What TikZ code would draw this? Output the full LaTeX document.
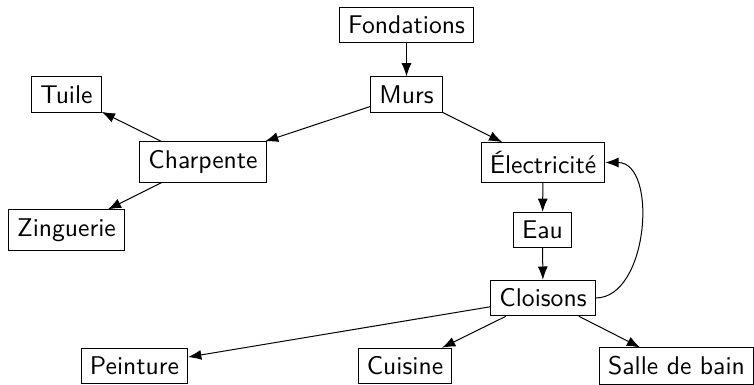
\documentclass[tikz,border=0pt]{standalone}
\usepackage{fontspec}
\usetikzlibrary{arrows.meta}
\begin{document}
\begin{tikzpicture}[x=0.4pt,y=-0.4pt,
  box/.style={draw, font=\sffamily\fontsize{10.25pt}{12.5pt}\selectfont, inner sep=3.42pt},
  arr/.style={-{Latex[length=5.3pt,width=4pt]}}]
\useasboundingbox (0,0) rectangle (754,385);
\node[box] (fond) at (406.5,25) {Fondations};
\node[box] (murs) at (406.5,94.5) {Murs};
\node[box] (tuile) at (66.5,94.5) {Tuile};
\node[box] (charp) at (203,162) {Charpente};
\node[box] (elec) at (543,162.5) {Électricité};
\node[box] (zing) at (66.5,230) {Zinguerie};
\node[box] (eau) at (542.5,230) {Eau};
\node[box] (cloi) at (543,298) {Cloisons};
\node[box] (pein) at (134.5,366) {Peinture};
\node[box] (cuis) at (405,366) {Cuisine};
\node[box] (salle) at (676.5,366) {Salle de bain};
\draw[arr] (fond) -- (murs);
\draw[arr] (murs) -- (charp);
\draw[arr] (murs) -- (elec);
\draw[arr] (charp) -- (tuile);
\draw[arr] (charp) -- (zing);
\draw[arr] (elec) -- (eau);
\draw[arr] (eau) -- (cloi);
\draw[arr] (cloi) -- (pein);
\draw[arr] (cloi) -- (cuis);
\draw[arr] (cloi) -- (salle);
\draw[arr] (cloi.east) to[out=0,in=0] (elec.east);
\end{tikzpicture}
\end{document}
